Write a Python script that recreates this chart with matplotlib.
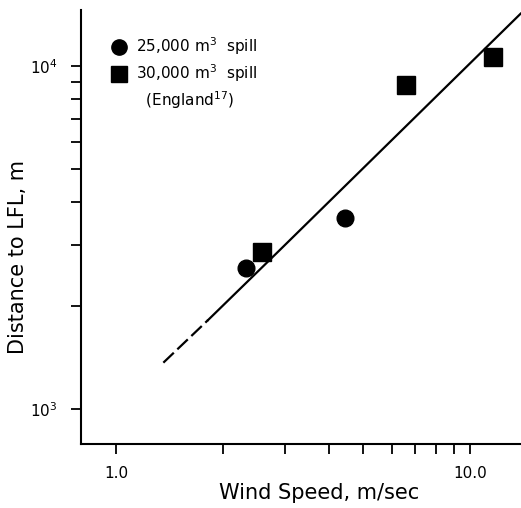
import matplotlib
matplotlib.use("Agg")
import matplotlib.pyplot as plt
from matplotlib.lines import Line2D
from matplotlib.ticker import FixedLocator, NullFormatter

# measured points
circle_speed = [2.33, 4.43]
circle_dist = [2580, 3600]
square_speed = [2.58, 6.58, 11.6]
square_dist = [2870, 8810, 10640]

# correlation line (dashed where extrapolated)
fit_speed_dashed = [1.36, 1.82]
fit_dist_dashed = [1365, 1818]
fit_speed_solid = [1.82, 2.84, 13.9]
fit_dist_solid = [1818, 2845, 14200]

xtick_vals = [1.0, 10.0]
xtick_labels = ["1.0", "10.0"]
xminor_vals = [2, 3, 4, 5, 6, 7, 8, 9]
yminor_vals = [2000, 3000, 4000, 5000, 6000, 7000, 8000, 9000]

plt.rcParams['font.family'] = ['DejaVu Sans']

fig = plt.figure(figsize=(5.21, 5.08), dpi=100)
ax = fig.add_axes([81 / 521, 64 / 508, 1 - 81 / 521, (444 - 10) / 508])

ax.plot(fit_speed_dashed, fit_dist_dashed, color='black', lw=1.6,
        dashes=(6.5, 2.2), solid_capstyle='butt')
ax.plot(fit_speed_solid, fit_dist_solid, color='black', lw=1.6)

ax.plot(circle_speed, circle_dist, 'o', color='black', ms=12, ls='none')
ax.plot(square_speed, square_dist, 's', color='black', ms=13, ls='none')

ax.set_xscale('log')
ax.set_yscale('log')
ax.set_xlim(0.796, 13.93)
ax.set_ylim(791, 14550)

ax.set_xticks(xtick_vals)
ax.set_xticklabels(xtick_labels)
ax.xaxis.set_minor_locator(FixedLocator(xminor_vals))
ax.xaxis.set_minor_formatter(NullFormatter())
ax.yaxis.set_minor_locator(FixedLocator(yminor_vals))
ax.yaxis.set_minor_formatter(NullFormatter())

for side in ['top', 'right']:
    ax.spines[side].set_visible(False)
for side in ['left', 'bottom']:
    ax.spines[side].set_linewidth(1.5)

ax.tick_params(which='both', direction='out', length=7, width=1.3)
ax.tick_params(axis='x', which='major', labelsize=11, pad=9)
ax.tick_params(axis='y', which='major', labelsize=11, pad=10)

ax.set_xlabel('Wind Speed, m/sec', fontsize=15)
ax.xaxis.set_label_coords((319 - 81) / 440, -(493 - 444) / 434, transform=ax.transAxes)
ax.set_ylabel('Distance to LFL, m', fontsize=15)
ax.yaxis.set_label_coords(-(81 - 18) / 440, (444 - 257) / 434, transform=ax.transAxes)
ax.xaxis.label.set_va('center')
ax.yaxis.label.set_va('center')

handles = [
    Line2D([], [], marker='o', color='black', ls='none', ms=11),
    Line2D([], [], marker='s', color='black', ls='none', ms=11),
    Line2D([], [], ls='none'),
]
labels = ['25,000 m$^3$  spill', '30,000 m$^3$  spill', '  (England$^{17}$)']
ax.legend(handles, labels, loc='upper left', bbox_to_anchor=(0.055, 0.955),
          frameon=False, fontsize=11, handlelength=1.0, handletextpad=0.6,
          labelspacing=0.35, borderaxespad=0)

fig.savefig('out.png', dpi=100)
